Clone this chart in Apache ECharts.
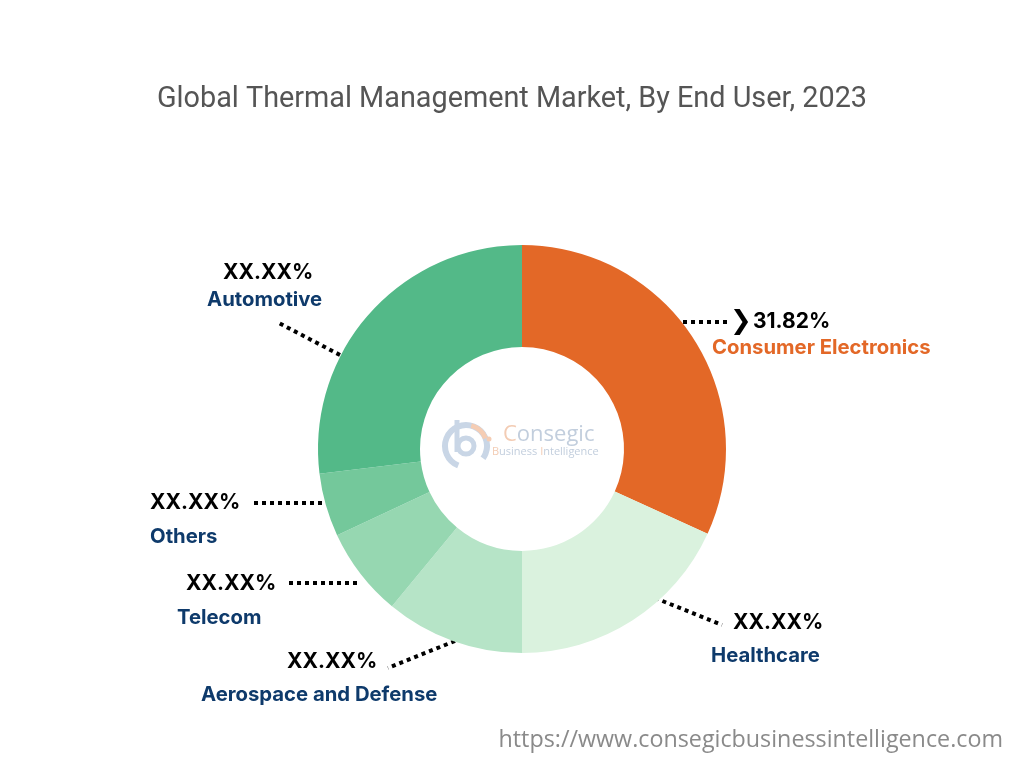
<!DOCTYPE html>
<html>
<head>
<meta charset="utf-8">
<script src="https://cdn.jsdelivr.net/npm/echarts@6/dist/echarts.min.js"></script>
<style>html,body{margin:0;padding:0;background:#fff}#c{width:1024px;height:768px}</style>
</head>
<body>
<div id="c"></div>
<script>
// ---- data ----
const categories = ['Consumer Electronics', 'Healthcare', 'Aerospace and Defense', 'Telecom', 'Others', 'Automotive'];
const shares = [31.82, 18.18, 11.0, 7.06, 5.0, 26.94];
const shareLabels = ['31.82%', 'XX.XX%', 'XX.XX%', 'XX.XX%', 'XX.XX%', 'XX.XX%'];
const sliceColors = ['#E36827', '#DAF2DE', '#B6E4C7', '#96D7B1', '#74C89B', '#53B988'];
const nameColors = ['#E36827', '#0E3A6B', '#0E3A6B', '#0E3A6B', '#0E3A6B', '#0E3A6B'];

// ---- label layout (positions only) ----
// left: block left x; pctPad: indent of percentage line; y: centre of percentage line; gap: line height
const labelPos = [
  {left: 712, pctPad: 0,  y: 322, gap: 26, line: [[683, 322], [730, 322]]},
  {left: 711, pctPad: 22, y: 623, gap: 33, line: [[655, 598], [722, 625]]},
  {left: 201, pctPad: 86, y: 662, gap: 33, line: [[455, 641], [388, 668]]},
  {left: 177, pctPad: 9,  y: 584, gap: 34, line: [[357, 583], [288, 583]]},
  {left: 150, pctPad: 0,  y: 503, gap: 34, line: [[322, 503], [250, 503]]},
  {left: 207, pctPad: 16, y: 273, gap: 27, line: [[340, 355], [277, 322]]}
];

const rich = {
  arrow: {fontFamily: 'DejaVu Sans', fontSize: 26, fontWeight: 'bold', color: '#000', width: 23, padding: [0, 0, 0, 18], lineHeight: 26}
};
labelPos.forEach((p, i) => {
  rich['p' + i] = {fontFamily: 'Inter', fontSize: 21, fontWeight: 'bold', color: '#000', lineHeight: p.gap, padding: [0, 0, 0, p.pctPad]};
  rich['n' + i] = {fontFamily: 'Inter', fontSize: 20.3, fontWeight: 'bold', color: nameColors[i], lineHeight: p.gap};
});

const chart = echarts.init(document.getElementById('c'), null, {renderer: 'canvas'});
chart.setOption({
  backgroundColor: '#fff',
  animation: false,
  title: {
    text: 'Global Thermal Management Market, By End User, 2023',
    left: 'center', top: 80,
    textStyle: {fontFamily: 'Roboto', fontSize: 28.8, fontWeight: 'normal', color: '#555'}
  },
  graphic: [
    {type: 'text', right: 21, top: 729, style: {text: 'https://www.consegicbusinessintelligence.com', font: '23.3px "Open Sans"', fill: '#8a8a8a'}},
    // faded logo in the centre
    {type: 'arc', shape: {cx: 466, cy: 446, r: 21, startAngle: Math.PI * 0.62, endAngle: Math.PI * 2.2, clockwise: true}, style: {stroke: '#C9D6E6', lineWidth: 6, fill: null}, z: 10},
    {type: 'line', shape: {x1: 457, y1: 420, x2: 457, y2: 452}, style: {stroke: '#C9D6E6', lineWidth: 5}, z: 10},
    {type: 'circle', shape: {cx: 466, cy: 446, r: 8}, style: {stroke: '#C9D6E6', lineWidth: 5, fill: null}, z: 10},
    {type: 'arc', shape: {cx: 466, cy: 446, r: 21, startAngle: -Math.PI * 0.42, endAngle: -Math.PI * 0.12, clockwise: true}, style: {stroke: '#F5CDB4', lineWidth: 5, fill: null}, z: 11},
    {type: 'circle', shape: {cx: 489, cy: 439, r: 2.5}, style: {fill: '#F5CDB4'}, z: 11},
    {type: 'text', left: 503, top: 424, style: {rich: {c: {fill: '#F3CCB4', font: '22px "Open Sans"'}, o: {fill: '#C2CEDD', font: '22px "Open Sans"'}}, text: '{c|C}{o|onsegic}'}, z: 10},
    {type: 'text', left: 492, top: 446, style: {rich: {c: {fill: '#F3CCB4', font: '11px "Open Sans"'}, o: {fill: '#C2CEDD', font: '11px "Open Sans"'}}, text: '{c|B}{o|usiness }{c|I}{o|ntelligence}'}, z: 10}
  ],
  series: [{
    type: 'pie',
    center: [522, 449],
    radius: [102, 204],
    startAngle: 90,
    clockwise: true,
    avoidLabelOverlap: false,
    silent: true,
    itemStyle: {borderWidth: 0},
    label: {
      show: true,
      position: 'outside',
      formatter: p => (p.dataIndex === 0 ? '{arrow|❯}' : '') + '{p' + p.dataIndex + '|' + shareLabels[p.dataIndex] + '}\n{n' + p.dataIndex + '|' + p.name + '}',
      rich: rich
    },
    labelLine: {show: true, lineStyle: {color: '#000', width: 4, type: [4, 4]}},
    labelLayout: params => {
      const p = labelPos[params.dataIndex];
      const a = p.line[0], b = p.line[1];
      return {
        x: p.left, y: p.y - p.gap / 2, align: 'left', verticalAlign: 'top',
        labelLinePoints: [a, [(a[0] + b[0]) / 2, (a[1] + b[1]) / 2], b]
      };
    },
    data: categories.map((c, i) => ({name: c, value: shares[i], itemStyle: {color: sliceColors[i]}}))
  }]
});
</script>
</body>
</html>
